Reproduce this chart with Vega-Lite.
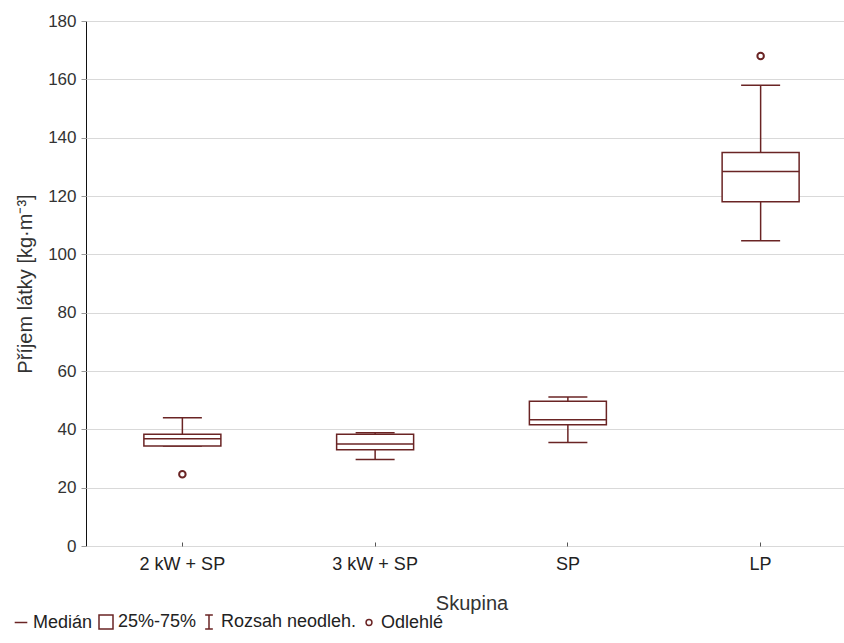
{
  "$schema": "https://vega.github.io/schema/vega-lite/v6.json",
  "width": 758,
  "height": 525,
  "autosize": {"type": "none"},
  "padding": {"left": 86, "top": 21, "right": 0, "bottom": 97},
  "background": "white",
  "config": {
    "font": "Liberation Sans",
    "view": {"stroke": "#111111", "strokeWidth": 1},
    "axis": {"labelFont": "Liberation Sans", "titleFont": "Liberation Sans", "titleFontWeight": "normal", "labelColor": "#333333", "titleColor": "#333333"}
  },
  "datasets": {
    "boxes": [
      {"skupina": "2 kW + SP", "min": 34.3, "q1": 34.3, "median": 36.8, "q3": 38.3, "max": 44.0},
      {"skupina": "3 kW + SP", "min": 29.7, "q1": 33.0, "median": 35.0, "q3": 38.3, "max": 38.8},
      {"skupina": "SP", "min": 35.5, "q1": 41.6, "median": 43.3, "q3": 49.6, "max": 51.1},
      {"skupina": "LP", "min": 104.7, "q1": 118.0, "median": 128.4, "q3": 134.9, "max": 158.0}
    ],
    "outliers": [
      {"skupina": "2 kW + SP", "value": 24.6},
      {"skupina": "LP", "value": 168.0}
    ],
    "legend": [
      {"leg": "Medián"},
      {"leg": "25%-75%"},
      {"leg": "Rozsah neodleh."},
      {"leg": "Odlehlé"}
    ]
  },
  "encoding": {
    "x": {
      "field": "skupina",
      "type": "nominal",
      "sort": ["2 kW + SP", "3 kW + SP", "SP", "LP"],
      "scale": {"domain": ["2 kW + SP", "3 kW + SP", "SP", "LP"], "range": [0, 771], "paddingInner": 0, "paddingOuter": 0},
      "axis": {
        "title": "Skupina",
        "titleFontSize": 20,
        "titlePadding": 20,
        "labelFontSize": 18,
        "labelAngle": 0,
        "labelPadding": 13,
        "labelColor": "#222222",
        "domain": false,
        "ticks": true,
        "tickSize": -4,
        "tickColor": "#555555",
        "grid": false
      }
    }
  },
  "layer": [
    {
      "data": {"name": "boxes"},
      "mark": {"type": "rule", "color": "#6a2424", "strokeWidth": 1.5},
      "encoding": {
        "y": {
          "field": "min",
          "type": "quantitative",
          "scale": {"domain": [0, 180], "nice": false},
          "axis": {
            "title": "Příjem látky [kg·m⁻³]",
            "titleFontSize": 20,
            "titlePadding": 12,
            "labelFontSize": 17,
            "labelPadding": 5,
            "tickSize": 5,
            "tickColor": "#999999",
            "values": [0, 20, 40, 60, 80, 100, 120, 140, 160, 180],
            "domain": false,
            "grid": true,
            "gridColor": "#d9d9d9",
            "gridWidth": 1
          }
        },
        "y2": {"field": "max"}
      }
    },
    {
      "data": {"name": "boxes"},
      "mark": {"type": "tick", "color": "#6a2424", "opacity": 1, "size": 39, "thickness": 1.5},
      "encoding": {"y": {"field": "max", "type": "quantitative"}}
    },
    {
      "data": {"name": "boxes"},
      "mark": {"type": "tick", "color": "#6a2424", "opacity": 1, "size": 39, "thickness": 1.5},
      "encoding": {"y": {"field": "min", "type": "quantitative"}}
    },
    {
      "data": {"name": "boxes"},
      "mark": {"type": "bar", "size": 77, "fill": "white", "stroke": "#6a2424", "strokeWidth": 1.5},
      "encoding": {
        "y": {"field": "q1", "type": "quantitative"},
        "y2": {"field": "q3"}
      }
    },
    {
      "data": {"name": "boxes"},
      "mark": {"type": "tick", "color": "#6a2424", "opacity": 1, "size": 77, "thickness": 1.5},
      "encoding": {"y": {"field": "median", "type": "quantitative"}}
    },
    {
      "data": {"name": "outliers"},
      "mark": {"type": "point", "shape": "circle", "filled": false, "fill": "white", "color": "#6a2424", "opacity": 1, "size": 42, "strokeWidth": 2},
      "encoding": {"y": {"field": "value", "type": "quantitative"}}
    },
    {
      "data": {"name": "legend"},
      "transform": [{"filter": "false"}],
      "mark": {"type": "point", "filled": false, "color": "#6a2424", "opacity": 1, "strokeWidth": 1.5},
      "encoding": {
        "x": {"value": 0},
        "y": {"value": 0},
        "shape": {
          "field": "leg",
          "type": "nominal",
          "scale": {
            "domain": ["Medián", "25%-75%", "Rozsah neodleh.", "Odlehlé"],
            "range": [
              "M-0.9,0H0.9",
              "M-1,-1H1V1H-1Z",
              "M-0.55,-1H0.55M0,-1V1M-0.55,1H0.55",
              "M0.42,0A0.42,0.42,0,1,1,-0.42,0A0.42,0.42,0,1,1,0.42,0"
            ]
          },
          "legend": {
            "title": null,
            "orient": "none",
            "legendX": -74,
            "legendY": 592,
            "direction": "horizontal",
            "symbolSize": 196,
            "symbolStrokeColor": "#6a2424",
            "symbolFillColor": "white",
            "symbolOpacity": 1,
            "symbolStrokeWidth": 1.5,
            "labelFont": "Liberation Sans",
            "labelFontSize": 18,
            "labelColor": "#222222",
            "labelOffset": 3,
            "columnPadding": 3,
            "labelLimit": 300
          }
        }
      }
    }
  ]
}
